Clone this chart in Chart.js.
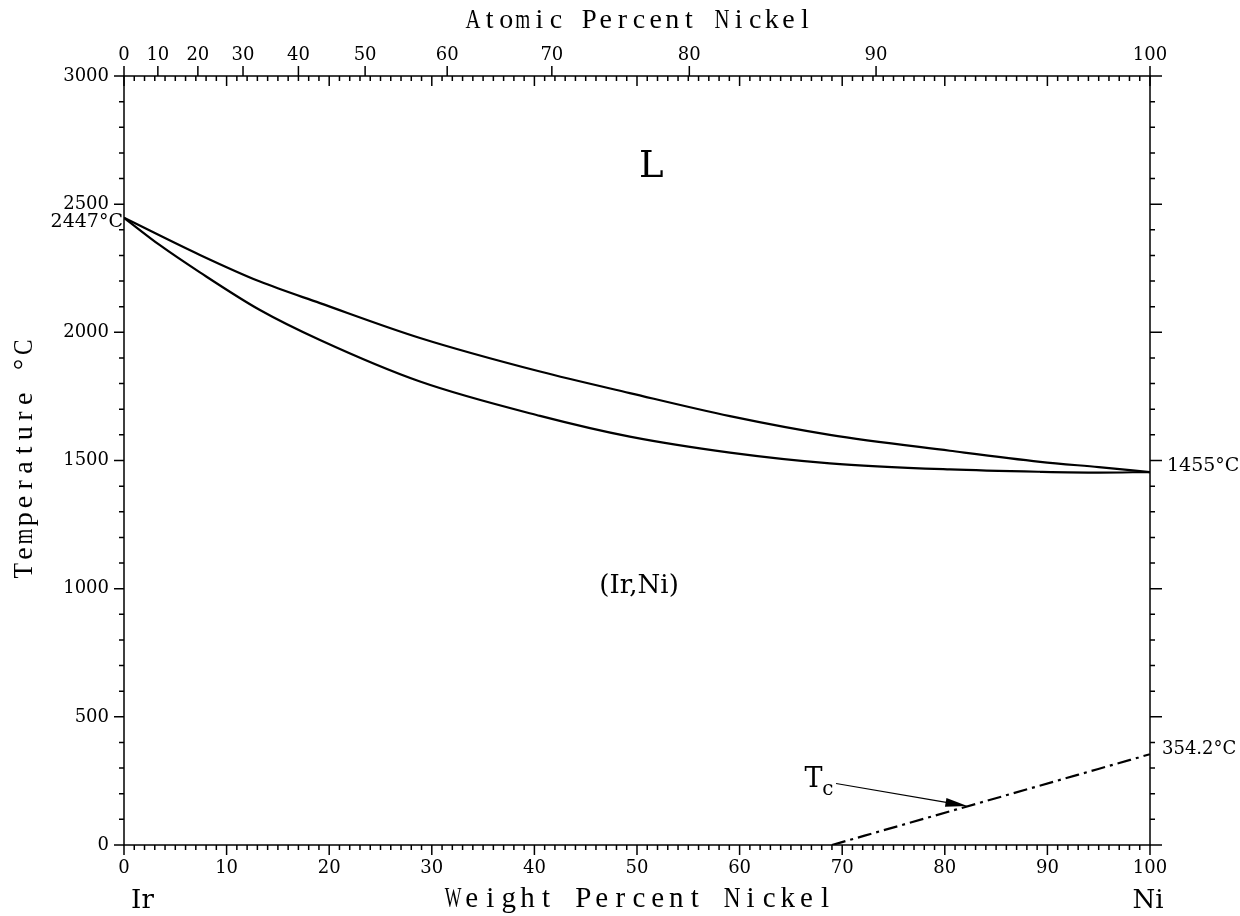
<!DOCTYPE html>
<html>
<head>
<meta charset="utf-8">
<script src="https://cdn.jsdelivr.net/npm/chart.js@4"></script>
<style>
  html, body { margin: 0; padding: 0; background: #fff; }
  #chart { display: block; }
</style>
</head>
<body>
<canvas id="chart" width="1240" height="916"></canvas>
<script>
// liquidus / solidus, weight percent Ni vs temperature (C)
const liquidusWt = [0, 7.4, 13.25, 19.1, 28.85, 40.55, 49.3, 59.06, 68.8, 80.5, 89.3, 95, 100];
const liquidusT = [2447, 2302, 2198, 2114, 1978, 1847, 1763, 1673, 1600, 1538, 1495, 1474, 1455];
const solidusWt = [0, 3.5, 7.4, 13.25, 19.1, 28.85, 40.55, 49.3, 59.06, 68.8, 80.5, 89.3, 95, 100];
const solidusT = [2447, 2340, 2234, 2087, 1970, 1808, 1674, 1593, 1531, 1489, 1465, 1456, 1453, 1455];
const curieWt = [69, 100];
const curieT = [0, 354.2];

// axis ticks
const weightTicks = [0, 10, 20, 30, 40, 50, 60, 70, 80, 90, 100];
const tempTicks = [0, 500, 1000, 1500, 2000, 2500, 3000];
const atomicTicks = [0, 10, 20, 30, 40, 50, 60, 70, 80, 90, 100];
const atomicTickWt = [0, 3.3, 7.2, 11.6, 17.0, 23.5, 31.5, 41.7, 55.1, 73.3, 100];

const toPoints = (xs, ys) => xs.map((x, i) => ({ x: x, y: ys[i] }));

const serif = "'DejaVu Serif', serif";
const typeFace = "'Liberation Serif', serif";

// typewriter-like text: one glyph per fixed slot, wide glyphs squeezed
function monoText(ctx, s, cx, cy, pitch) {
  const start = cx - (pitch * (s.length - 1)) / 2;
  const maxW = pitch * 0.9;
  for (let i = 0; i < s.length; i++) {
    const w = ctx.measureText(s[i]).width;
    ctx.save();
    ctx.translate(start + i * pitch, cy);
    if (w > maxW) ctx.scale(maxW / w, 1);
    ctx.fillText(s[i], 0, 0);
    ctx.restore();
  }
}

const phasePlugin = {
  id: "phaseDecor",
  afterDraw(chart) {
    const ctx = chart.ctx;
    const xs = chart.scales.x;
    const ys = chart.scales.y;
    const L = xs.getPixelForValue(0), R = xs.getPixelForValue(100);
    const T = ys.getPixelForValue(3000), B = ys.getPixelForValue(0);

    ctx.save();
    ctx.strokeStyle = "#000";
    ctx.fillStyle = "#000";
    ctx.lineWidth = 1.5;

    // frame
    ctx.strokeRect(L, T, R - L, B - T);

    ctx.beginPath();
    // bottom + top weight ticks, every 1 wt%
    for (let w = 0; w <= 100; w++) {
      const px = xs.getPixelForValue(w);
      const major = w % 10 === 0;
      ctx.moveTo(px, B);
      ctx.lineTo(px, B + (major ? 10 : 5));
      ctx.moveTo(px, T);
      ctx.lineTo(px, T + (major ? 10 : 5));
    }
    // top atomic ticks
    atomicTickWt.forEach((w) => {
      const px = xs.getPixelForValue(w);
      ctx.moveTo(px, T);
      ctx.lineTo(px, T - 10);
    });
    // left / right temperature ticks, every 100 C
    for (let t = 0; t <= 3000; t += 100) {
      const py = ys.getPixelForValue(t);
      const major = t % 500 === 0;
      ctx.moveTo(L, py);
      ctx.lineTo(L - (major ? 10 : 5), py);
      ctx.moveTo(R, py);
      ctx.lineTo(R + (major ? 12 : 5), py);
    }
    ctx.stroke();

    // tick labels
    ctx.font = "18px " + serif;
    ctx.textAlign = "center";
    ctx.textBaseline = "middle";
    weightTicks.forEach((w) => {
      ctx.fillText(String(w), xs.getPixelForValue(w), B + 23);
    });
    atomicTicks.forEach((a, i) => {
      ctx.fillText(String(a), xs.getPixelForValue(atomicTickWt[i]), T - 21);
    });
    ctx.textAlign = "right";
    tempTicks.forEach((t) => {
      ctx.fillText(String(t), L - 15, ys.getPixelForValue(t));
    });

    // point labels
    ctx.font = "19px " + serif;
    ctx.fillText("2447°C", L - 1, ys.getPixelForValue(2447) + 4);
    ctx.textAlign = "left";
    ctx.fillText("1455°C", R + 17, ys.getPixelForValue(1455) - 6);
    ctx.font = "18px " + serif;
    ctx.fillText("354.2°C", R + 12, ys.getPixelForValue(354.2) - 5);

    // axis titles
    ctx.textAlign = "center";
    ctx.font = "28px " + typeFace;
    monoText(ctx, "Atomic Percent Nickel", (L + R) / 2 + 2, 21, 16.6);
    ctx.font = "29px " + typeFace;
    monoText(ctx, "Weight Percent Nickel", (L + R) / 2 + 2, 899, 18.6);
    ctx.save();
    ctx.translate(25, 459);
    ctx.rotate(-Math.PI / 2);
    ctx.font = "28px " + typeFace;
    monoText(ctx, "Temperature °C", 0, 0, 17.2);
    ctx.restore();

    // phase labels
    ctx.font = "37px " + serif;
    ctx.fillText("L", xs.getPixelForValue(51.4), ys.getPixelForValue(2645));
    ctx.font = "26px " + serif;
    ctx.fillText("(Ir,Ni)", xs.getPixelForValue(50.2), ys.getPixelForValue(1010));
    ctx.fillText("Ir", xs.getPixelForValue(1.8), 901);
    ctx.fillText("Ni", xs.getPixelForValue(99.8), 901);

    // Tc label
    ctx.font = "27px " + serif;
    ctx.fillText("T", xs.getPixelForValue(67.2), ys.getPixelForValue(252));
    ctx.font = "20px " + serif;
    ctx.fillText("c", xs.getPixelForValue(68.6), ys.getPixelForValue(215));

    // arrow to the Curie line
    const x0 = xs.getPixelForValue(69.4), y0 = ys.getPixelForValue(240);
    const x1 = xs.getPixelForValue(82.2), y1 = ys.getPixelForValue(152);
    const ang = Math.atan2(y1 - y0, x1 - x0);
    ctx.lineWidth = 1.2;
    ctx.beginPath();
    ctx.moveTo(x0, y0);
    ctx.lineTo(x1 - 20 * Math.cos(ang), y1 - 20 * Math.sin(ang));
    ctx.stroke();
    ctx.beginPath();
    ctx.moveTo(x1, y1);
    ctx.lineTo(x1 - 22 * Math.cos(ang) + 4.5 * Math.sin(ang), y1 - 22 * Math.sin(ang) - 4.5 * Math.cos(ang));
    ctx.lineTo(x1 - 22 * Math.cos(ang) - 4.5 * Math.sin(ang), y1 - 22 * Math.sin(ang) + 4.5 * Math.cos(ang));
    ctx.closePath();
    ctx.fill();

    ctx.restore();
  },
};

const lineStyle = {
  showLine: true,
  borderColor: "#000",
  borderWidth: 2.2,
  pointRadius: 0,
  fill: false,
  cubicInterpolationMode: "monotone",
};

new Chart(document.getElementById("chart").getContext("2d"), {
  type: "scatter",
  data: {
    datasets: [
      { ...lineStyle, label: "Liquidus", data: toPoints(liquidusWt, liquidusT) },
      { ...lineStyle, label: "Solidus", data: toPoints(solidusWt, solidusT) },
      { ...lineStyle, label: "Tc", data: toPoints(curieWt, curieT), borderWidth: 2.2, borderDash: [14, 5, 3, 5] },
    ],
  },
  options: {
    responsive: false,
    devicePixelRatio: 1,
    animation: false,
    layout: { padding: { left: 124, right: 90, top: 76, bottom: 71 } },
    plugins: { legend: { display: false }, tooltip: { enabled: false } },
    scales: {
      x: { type: "linear", min: 0, max: 100, display: false },
      y: { type: "linear", min: 0, max: 3000, display: false },
    },
  },
  plugins: [phasePlugin],
});
</script>
</body>
</html>
